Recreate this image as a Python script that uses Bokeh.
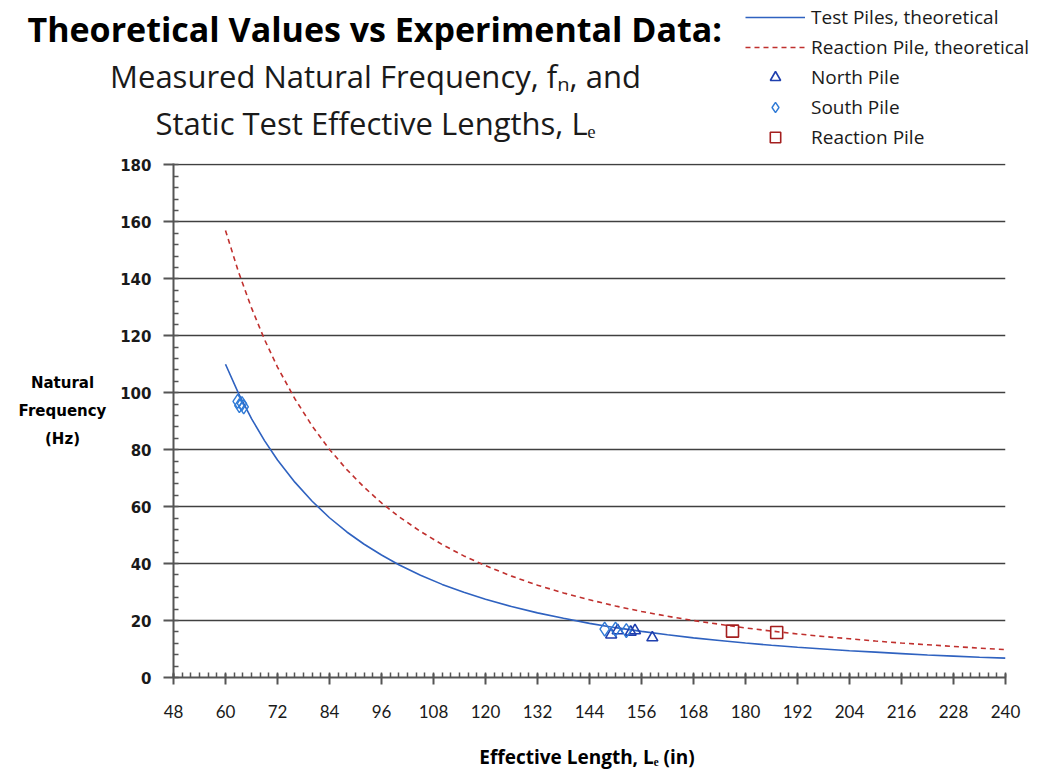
from bokeh.plotting import figure
from bokeh.layouts import column, row
from bokeh.models import (Range1d, SingleIntervalTicker, Label, Legend, LegendItem,
                          ColumnDataSource)
from bokeh.embed import file_html
from bokeh.resources import INLINE

# ---------------- data ----------------
theory_len = [60, 63, 66, 69, 72, 76, 80, 84, 88, 92, 96, 100, 105, 110, 115, 120,
              126, 132, 138, 144, 150, 156, 162, 168, 174, 180, 186, 192, 198, 204,
              210, 216, 222, 228, 234, 240]
test_piles_theory = [110.0, 99.8, 90.9, 83.2, 76.4, 68.6, 61.9, 56.1, 51.1, 46.8, 43.0,
                     39.6, 35.9, 32.7, 29.9, 27.5, 24.9, 22.7, 20.8, 19.0, 17.5, 16.2,
                     15.0, 13.9, 13.0, 12.1, 11.3, 10.6, 10.0, 9.4, 8.9, 8.4, 7.9, 7.5,
                     7.1, 6.8]
reaction_theory = [157.0, 142.4, 129.8, 118.7, 109.0, 97.9, 88.3, 80.1, 73.0, 66.8,
                   61.3, 56.5, 51.3, 46.7, 42.7, 39.3, 35.6, 32.4, 29.7, 27.3, 25.1,
                   23.2, 21.5, 20.0, 18.7, 17.4, 16.3, 15.3, 14.4, 13.6, 12.8, 12.1,
                   11.5, 10.9, 10.3, 9.8]

north_len = [149.0, 150.5, 153.5, 154.5, 158.5]
north_freq = [15.0, 16.5, 16.0, 16.5, 14.0]

south_len = [62.8, 63.2, 63.8, 64.2, 147.5, 150.0, 152.5]
south_freq = [97.0, 95.5, 96.2, 95.0, 17.0, 17.0, 16.5]

reaction_len = [177.0, 187.2]
reaction_freq = [16.3, 15.8]

x_range = (48, 240)
y_range = (0, 180.5)

series_names = ["Test Piles, theoretical", "Reaction Pile, theoretical",
                "North Pile", "South Pile", "Reaction Pile"]

title_text = "Theoretical Values vs Experimental Data:"
subtitle_1 = "Measured Natural Frequency, f\u2099, and"
subtitle_2 = "Static Test Effective Lengths, L\u2091"
y_label_lines = ["Natural", "Frequency", "(Hz)"]
x_label_text = "Effective Length, L\u2091  (in)"

# ---------------- layout geometry ----------------
W, H = 1044, 772
TOP_H = 150            # header strip (title + legend)
LEFT_W = 110           # strip holding the horizontal y-axis title
FRAME_L, FRAME_R, FRAME_T, FRAME_B = 173, 1005, 163, 677

AX = "#555555"
TXT = "#1a1a1a"
C_TEST = "#2f62c0"
C_REACT_LINE = "#c0302e"
C_NORTH = "#1f3fae"
C_SOUTH = "#2f7ad6"
C_REACT = "#a41f1f"

TITLE_FONT = "Open Sans"


def blank(width, height):
    f = figure(width=width, height=height, x_range=(0, 1), y_range=(0, 1),
               x_axis_location=None, y_axis_location=None, output_backend="svg",
               toolbar_location=None, min_border=0)
    f.outline_line_color = None
    f.grid.visible = False
    return f


def lab(f, y0, text, cx, cy, size, style="normal", font=TITLE_FONT, align="center"):
    # y0: canvas row (from the top) of the figure frame's bottom edge
    f.add_layout(Label(x=cx, y=y0 - cy, x_units="screen", y_units="screen",
                       text=text, text_font=font, text_font_size=size,
                       text_font_style=style,
                       text_color="black" if style == "bold" else TXT,
                       text_align=align, text_baseline="middle"))


# ---------------- main plot ----------------
MAIN_W, MAIN_H = W - LEFT_W, H - TOP_H
p = figure(width=MAIN_W, height=MAIN_H, x_range=Range1d(*x_range),
           y_range=Range1d(*y_range), output_backend="svg", toolbar_location=None,
           min_border_left=FRAME_L - LEFT_W, min_border_right=W - FRAME_R,
           min_border_top=FRAME_T - TOP_H, min_border_bottom=H - FRAME_B)
p.outline_line_color = None

p.xaxis.ticker = SingleIntervalTicker(interval=12, num_minor_ticks=6)
p.xaxis.axis_line_color = AX
p.xaxis.axis_line_width = 2
p.xaxis.major_tick_line_color = AX
p.xaxis.major_tick_line_width = 2
p.xaxis.major_tick_out = 7
p.xaxis.major_tick_in = 4
p.xaxis.minor_tick_line_color = AX
p.xaxis.minor_tick_line_width = 1.5
p.xaxis.minor_tick_out = 0
p.xaxis.minor_tick_in = 5
p.xaxis.major_label_text_font = "Lato"
p.xaxis.major_label_text_font_size = "17px"
p.xaxis.major_label_text_color = TXT
p.xaxis.major_label_standoff = 20
p.xaxis.axis_label = x_label_text
p.xaxis.axis_label_text_font = TITLE_FONT
p.xaxis.axis_label_text_font_style = "bold"
p.xaxis.axis_label_text_font_size = "19px"
p.xaxis.axis_label_text_color = "black"
p.xaxis.axis_label_standoff = 23

p.yaxis.ticker = SingleIntervalTicker(interval=20, num_minor_ticks=5)
p.yaxis.axis_line_color = AX
p.yaxis.axis_line_width = 2
p.yaxis.major_tick_line_color = AX
p.yaxis.major_tick_line_width = 2
p.yaxis.major_tick_out = 10
p.yaxis.major_tick_in = 0
p.yaxis.minor_tick_line_color = AX
p.yaxis.minor_tick_line_width = 1.5
p.yaxis.minor_tick_out = 0
p.yaxis.minor_tick_in = 5
p.yaxis.major_label_text_font = "DejaVu Sans"
p.yaxis.major_label_text_font_style = "bold"
p.yaxis.major_label_text_font_size = "15px"
p.yaxis.major_label_text_color = TXT
p.yaxis.major_label_standoff = 12

p.xgrid.grid_line_color = None
p.ygrid.grid_line_color = "#404040"
p.ygrid.grid_line_width = 1.5

src_t = ColumnDataSource(dict(x=theory_len, y=test_piles_theory))
src_r = ColumnDataSource(dict(x=theory_len, y=reaction_theory))
src_n = ColumnDataSource(dict(x=north_len, y=north_freq))
src_s = ColumnDataSource(dict(x=south_len, y=south_freq))
src_rp = ColumnDataSource(dict(x=reaction_len, y=reaction_freq))

line_t = dict(line_color=C_TEST, line_width=1.6)
line_r = dict(line_color=C_REACT_LINE, line_width=1.6, line_dash="5 4")
mk_n = dict(marker="triangle", size=11, fill_color=None, line_color=C_NORTH, line_width=1.6)
mk_s = dict(marker="diamond", size=14, fill_color=None, line_color=C_SOUTH, line_width=1.4)
mk_r = dict(marker="square", size=12, fill_color=None, line_color=C_REACT, line_width=1.6)

p.line("x", "y", source=src_t, **line_t)
p.line("x", "y", source=src_r, **line_r)
p.scatter("x", "y", source=src_n, **mk_n)
p.scatter("x", "y", source=src_s, **mk_s)
p.scatter("x", "y", source=src_rp, **mk_r)

# ---------------- header: title, subtitles and legend ----------------
top = blank(W, TOP_H)
lab(top, TOP_H, title_text, 27, 28, "34px", "bold", align="left")
lab(top, TOP_H, subtitle_1, 375, 75, "31px")
lab(top, TOP_H, subtitle_2, 375, 122, "31px")

# legend renderers: same series, drawn in the header whose ranges keep them off view
g1 = top.line("x", "y", source=src_t, **line_t)
g2 = top.line("x", "y", source=src_r, **line_r)
g3 = top.scatter("x", "y", source=src_n, **mk_n)
g4 = top.scatter("x", "y", source=src_s, **mk_s)
g5 = top.scatter("x", "y", source=src_rp, **mk_r)
legend = Legend(items=[LegendItem(label=n, renderers=[r]) for n, r in
                       zip(series_names, [g1, g2, g3, g4, g5])],
                location=(745, 0))
legend.border_line_color = None
legend.background_fill_alpha = 0
legend.padding = 0
legend.margin = 0
legend.spacing = 4
legend.glyph_width = 60
legend.glyph_height = 26
legend.label_height = 26
legend.label_standoff = 6
legend.label_text_font = TITLE_FONT
legend.label_text_font_size = "19px"
legend.label_text_color = TXT
top.add_layout(legend, "center")

# ---------------- left strip: horizontal y-axis title ----------------
left = blank(LEFT_W, MAIN_H)
for i, t in enumerate(y_label_lines):
    lab(left, FRAME_B, t, 62, 382 + 28 * i, "15px", "bold", font="DejaVu Sans")

layout = column(top, row(left, p, spacing=0), spacing=0)
open("out.html", "w").write(file_html(layout, INLINE))
